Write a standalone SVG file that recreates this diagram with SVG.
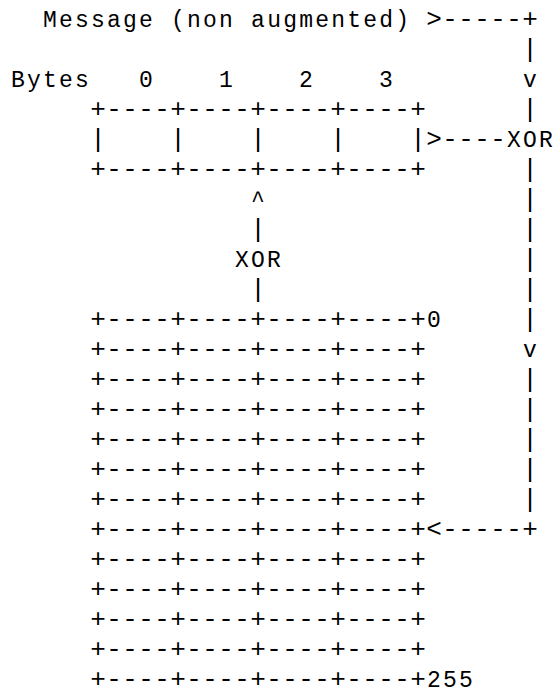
<svg xmlns="http://www.w3.org/2000/svg" width="554" height="696" viewBox="0 0 554 696">
<style>
text{font-family:"Courier New","Liberation Mono",monospace;fill:#000}
.lbl{font-size:23px;letter-spacing:2.2px}
.sym{font-size:26px;letter-spacing:0.4px}
.idx{font-size:23px;letter-spacing:2.2px}
.ns{letter-spacing:0}
</style>
<rect width="554" height="696" fill="#fff"/>
<g id="message"><text class="lbl" x="43.1" y="26.7">Message (non augmented)</text></g>
<g id="bytes" class="lbl">
<text x="11.1" y="86.7">Bytes</text>
<text x="139.1" y="86.7">0</text>
<text x="219.1" y="86.7">1</text>
<text x="299.1" y="86.7">2</text>
<text x="379.1" y="86.7">3</text>
</g>
<g id="register" class="sym">
<text x="90.2" y="116.7">+----+----+----+----+</text>
<text x="90.2" y="146.7" xml:space="preserve">|    |    |    |    |</text>
<text x="90.2" y="176.7">+----+----+----+----+</text>
</g>
<g id="xor-register"><text class="lbl ns" x="507.1 523.1 539.1" y="146.7">XOR</text></g>
<g id="xor-table"><text class="lbl" x="235.1" y="266.7">XOR</text></g>
<g id="table" class="sym">
<text x="90.2" y="326.7">+----+----+----+----+</text>
<text x="90.2" y="356.7">+----+----+----+----+</text>
<text x="90.2" y="386.7">+----+----+----+----+</text>
<text x="90.2" y="416.7">+----+----+----+----+</text>
<text x="90.2" y="446.7">+----+----+----+----+</text>
<text x="90.2" y="476.7">+----+----+----+----+</text>
<text x="90.2" y="506.7">+----+----+----+----+</text>
<text x="90.2" y="536.7">+----+----+----+----+</text>
<text x="90.2" y="566.7">+----+----+----+----+</text>
<text x="90.2" y="596.7">+----+----+----+----+</text>
<text x="90.2" y="626.7">+----+----+----+----+</text>
<text x="90.2" y="656.7">+----+----+----+----+</text>
<text x="90.2" y="686.5">+----+----+----+----+</text>
<text class="idx" x="427.1" y="326.7">0</text>
<text class="idx" x="427.1" y="686.5">255</text>
</g>
<g id="connectors" class="sym">
<text x="426.2" y="26.7">&gt;-----+</text>
<text x="522.2" y="56.7">|</text>
<text class="lbl" x="523.1" y="86.7">v</text>
<text x="522.2" y="116.7">|</text>
<text x="426.2" y="146.7">&gt;----</text>
<text x="522.2" y="176.7">|</text>
<text x="522.2" y="206.7">|</text>
<text x="522.2" y="236.7">|</text>
<text x="522.2" y="266.7">|</text>
<text x="522.2" y="296.7">|</text>
<text x="522.2" y="326.7">|</text>
<text class="lbl" x="523.1" y="356.7">v</text>
<text x="522.2" y="386.7">|</text>
<text x="522.2" y="416.7">|</text>
<text x="522.2" y="446.7">|</text>
<text x="522.2" y="476.7">|</text>
<text x="522.2" y="506.7">|</text>
<text x="426.2" y="536.7">&lt;-----+</text>
<text class="lbl" x="251.1" y="206.7">^</text>
<text x="250.2" y="236.7">|</text>
<text x="250.2" y="296.7">|</text>
</g>
</svg>
